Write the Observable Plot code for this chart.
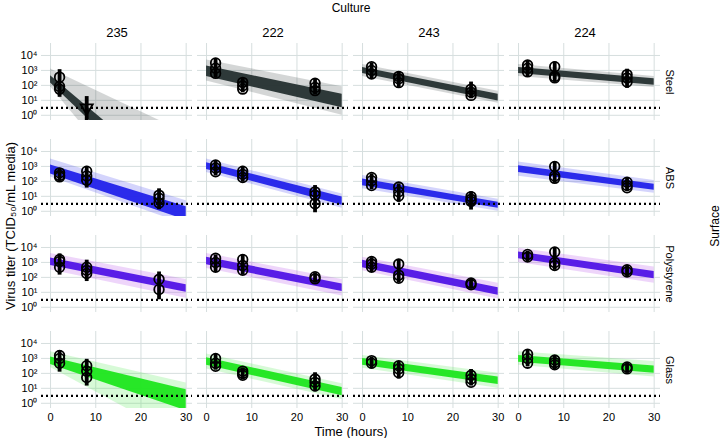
<!DOCTYPE html>
<html><head><meta charset="utf-8">
<script src="https://cdn.jsdelivr.net/npm/d3@7"></script>
<script src="https://cdn.jsdelivr.net/npm/@observablehq/plot@0.6"></script>
<style>body{margin:0;background:#fff;} svg{display:block;}</style>
</head><body><div id="chart"></div>
<script>
// Facet categories
const surfaces = ["Steel", "ABS", "Polystyrene", "Glass"];
const cultures = ["235", "222", "243", "224"];
const xTicks = [0, 10, 20, 30];
const yTicks = [0, 1, 2, 3, 4]; // log10 titer
const detectionLog10 = 0.5;

// Posterior band per culture (same order as cultures): log10 titer [lo@t0, hi@t0, lo@t30, hi@t30]
const bandTimes = [0, 30];
const steelInner = [[2.15, 2.65, -6.5, -5.0], [2.6, 3.3, 0.5, 1.4], [2.8, 3.2, 0.95, 1.4], [2.8, 3.2, 2.0, 2.45]];
const steelOuter = [[1.9, 3.1, -9.0, -1.2], [2.3, 3.7, 0.0, 1.9], [2.6, 3.4, 0.8, 1.6], [2.6, 3.4, 1.85, 2.6]];
const absInner = [[2.5, 3.1, -0.6, 0.3], [2.8, 3.25, 0.4, 0.95], [1.7, 2.15, 0.2, 0.6], [2.6, 3.05, 1.4, 1.8]];
const absOuter = [[2.3, 3.5, -0.9, 0.7], [2.6, 3.5, 0.2, 1.15], [1.5, 2.4, 0.0, 0.8], [2.35, 3.3, 1.2, 2.05]];
const polyInner = [[2.8, 3.3, 1.0, 1.5], [2.85, 3.35, 1.05, 1.55], [2.65, 3.15, 0.8, 1.3], [3.25, 3.7, 1.9, 2.4]];
const polyOuter = [[2.5, 3.6, 0.6, 1.85], [2.6, 3.6, 0.75, 1.85], [2.45, 3.35, 0.55, 1.6], [3.0, 3.95, 1.6, 2.7]];
const glassInner = [[2.6, 3.1, -0.5, 0.9], [2.55, 3.05, 0.5, 1.05], [2.55, 3.0, 1.25, 1.75], [2.75, 3.2, 2.0, 2.5]];
const glassOuter = [[2.4, 3.45, -2.5, 1.35], [2.3, 3.3, 0.25, 1.3], [2.35, 3.2, 1.0, 2.0], [2.55, 3.45, 1.75, 2.8]];

// Observations: [culture, time (h), replicate log10 titers, error-bar lo, error-bar hi]
const steelObs = [
  ["235", 2, [2.55, 1.93, 1.75], 1.2, 3.05], ["235", 8, [0.5], -0.35, 1.25],
  ["222", 2, [3.5, 3.15, 2.8], 2.5, 3.8], ["222", 8, [2.2, 1.97, 1.75], 1.5, 2.45], ["222", 24, [2.14, 1.86, 1.65], 1.37, 2.4],
  ["243", 2, [3.25, 3.0, 2.76], 2.44, 3.5], ["243", 8, [2.6, 2.44, 2.18], 1.86, 2.93], ["243", 24, [1.75, 1.54, 1.33], 1.1, 2.22],
  ["224", 2, [3.36, 3.15, 2.9], 2.57, 3.64], ["224", 8, [3.25, 2.6, 2.5], 2.22, 3.57], ["224", 24, [2.72, 2.5, 2.22], 1.8, 3.08]
];
const absObs = [
  ["235", 2, [2.57, 2.4, 2.3], 2.0, 2.8], ["235", 8, [2.68, 2.36, 2.08], 1.55, 3.0], ["235", 24, [1.08, 0.87, 0.55], 0.1, 1.5],
  ["222", 2, [3.1, 2.9, 2.64], 2.36, 3.36], ["222", 8, [2.68, 2.47, 2.26], 1.94, 3.0], ["222", 24, [1.3, 1.08, 0.51], -0.1, 1.72],
  ["243", 2, [2.26, 2.04, 1.72], 1.45, 2.5], ["243", 8, [1.62, 1.3, 1.02], 0.6, 1.83], ["243", 24, [0.98, 0.8, 0.66], 0.08, 1.3],
  ["224", 8, [3.0, 2.36, 2.2], 1.87, 3.3], ["224", 24, [1.94, 1.72, 1.57], 1.36, 2.26]
];
const polyObs = [
  ["235", 2, [3.2, 3.06, 2.68], 2.15, 3.57], ["235", 8, [2.68, 2.47, 2.26], 1.72, 3.15], ["235", 24, [1.87, 1.19], 0.5, 2.36],
  ["222", 2, [3.28, 3.0, 2.68], 2.36, 3.5], ["222", 8, [3.2, 2.79, 2.47], 2.15, 3.5], ["222", 24, [2.04, 1.9], 1.62, 2.3],
  ["243", 2, [3.06, 2.89, 2.68], 2.36, 3.32], ["243", 8, [2.89, 2.15, 1.94], 1.62, 3.15], ["243", 24, [1.62, 1.51], 1.23, 1.87],
  ["224", 2, [3.53, 3.36], 3.06, 3.74], ["224", 8, [3.7, 3.0, 2.79], 2.47, 4.0], ["224", 24, [2.51, 2.36], 2.04, 2.79]
];
const glassObs = [
  ["235", 2, [3.2, 3.0, 2.68], 2.08, 3.53], ["235", 8, [2.51, 2.15, 1.72], 1.15, 2.94],
  ["222", 2, [3.0, 2.68, 2.47], 2.21, 3.28], ["222", 8, [2.15, 2.0, 1.87], 1.57, 2.36], ["222", 24, [1.62, 1.4, 1.15], 0.77, 2.04],
  ["243", 2, [2.85, 2.68], 2.3, 3.06], ["243", 8, [2.51, 2.3, 2.04], 1.62, 2.79], ["243", 24, [1.87, 1.62, 1.4], 1.15, 2.26],
  ["224", 2, [3.28, 3.0, 2.68], 2.43, 3.53], ["224", 8, [2.89, 2.72, 2.57], 2.26, 3.15], ["224", 24, [2.43, 2.3], 2.0, 2.68]
];

// Palette
const innerColors = ["#253030", "#2222ea", "#5014e6", "#1ee61e"];
const outerColors = ["#3a4646", "#3c3cf0", "#b040e8", "#4ae84a"];

const innerBands = [steelInner, absInner, polyInner, glassInner];
const outerBands = [steelOuter, absOuter, polyOuter, glassOuter];
const allObs = [steelObs, absObs, polyObs, glassObs];

function bandRows(sets, colors) {
  const rows = [];
  sets.forEach((set, si) => set.forEach((b, ci) => {
    rows.push({surface: surfaces[si], culture: cultures[ci], t: bandTimes[0], lo: b[0], hi: b[1], color: colors[si]});
    rows.push({surface: surfaces[si], culture: cultures[ci], t: bandTimes[1], lo: b[2], hi: b[3], color: colors[si]});
  }));
  return rows;
}
const innerRows = bandRows(innerBands, innerColors);
const outerRows = bandRows(outerBands, outerColors);

const barRows = [], pointRows = [];
allObs.forEach((obs, si) => obs.forEach(([c, t, vals, lo, hi]) => {
  barRows.push({surface: surfaces[si], culture: c, t, lo, hi});
  vals.forEach(v => pointRows.push({surface: surfaces[si], culture: c, t, v}));
}));
const circles = pointRows.filter(d => d.v > detectionLog10);
const censored = pointRows.filter(d => d.v <= detectionLog10);

const sup = ["⁰", "¹", "²", "³", "⁴"];

const chart = Plot.plot({
  width: 720,
  height: 438,
  marginTop: 42,
  marginBottom: 30,
  marginLeft: 40,
  marginRight: 60,
  style: {fontFamily: "'Liberation Sans', Arial, sans-serif", fontSize: "11px", color: "#000", background: "#fff"},
  fx: {domain: cultures, paddingInner: 0.035, paddingOuter: 0},
  fy: {domain: surfaces, paddingInner: 0.2, paddingOuter: 0},
  x: {domain: [-2, 31.4]},
  y: {domain: [-0.35, 4.8]},
  color: {type: "identity"},
  marks: [
    Plot.gridX(xTicks, {stroke: "#d6dede", strokeOpacity: 1, strokeWidth: 1}),
    Plot.gridY(yTicks, {stroke: "#d6dede", strokeOpacity: 1, strokeWidth: 1}),
    Plot.areaY(outerRows, {x: "t", y1: "lo", y2: "hi", fx: "culture", fy: "surface", fill: "color", fillOpacity: 0.22, clip: true}),
    Plot.areaY(innerRows, {x: "t", y1: "lo", y2: "hi", fx: "culture", fy: "surface", fill: "color", fillOpacity: 0.95, clip: true}),
    Plot.ruleY([detectionLog10], {stroke: "#000", strokeWidth: 2.2, strokeDasharray: "2,3"}),
    Plot.ruleX(barRows, {x: "t", y1: "lo", y2: "hi", fx: "culture", fy: "surface", stroke: "#000", strokeWidth: 3.8, clip: true}),
    Plot.dot(circles, {x: "t", y: "v", fx: "culture", fy: "surface", r: 4.8, stroke: "#000", strokeWidth: 1.8, fill: "none"}),
    Plot.dot(censored, {x: "t", y: "v", fx: "culture", fy: "surface", r: 4.5, symbol: "triangle", rotate: 180, stroke: "#000", strokeWidth: 1.8, fill: "none"}),
    Plot.axisX({ticks: xTicks, tickSize: 0, tickPadding: 5, fontSize: 11, label: null}),
    Plot.axisX({ticks: [], tickSize: 0, fontSize: 13, label: "Time (hours)", labelAnchor: "center", labelArrow: "none", labelOffset: 27}),
    Plot.axisY({ticks: yTicks, tickSize: 0, tickPadding: 4, fontSize: 11, tickFormat: d => "10" + sup[d], label: null}),
    Plot.axisY({ticks: [], tickSize: 0, fontSize: 13, label: "Virus titer (TCID₅₀/mL media)", labelAnchor: "center", labelArrow: "none", labelOffset: 36}),
    Plot.axisFx({anchor: "top", tickSize: 0, tickPadding: 7, fontSize: 13, label: null}),
    Plot.axisFx({anchor: "top", ticks: [], tickSize: 0, fontSize: 12, label: "Culture", labelAnchor: "center", labelOffset: 40}),
    Plot.axisFy({anchor: "right", tickSize: 0, tickPadding: 13, tickRotate: 90, fontSize: 11, label: null}),
    Plot.axisFy({anchor: "right", ticks: [], tickSize: 0, fontSize: 12, label: "Surface", labelAnchor: "center", labelOffset: 58})
  ]
});
document.getElementById("chart").append(chart);
</script></body></html>
